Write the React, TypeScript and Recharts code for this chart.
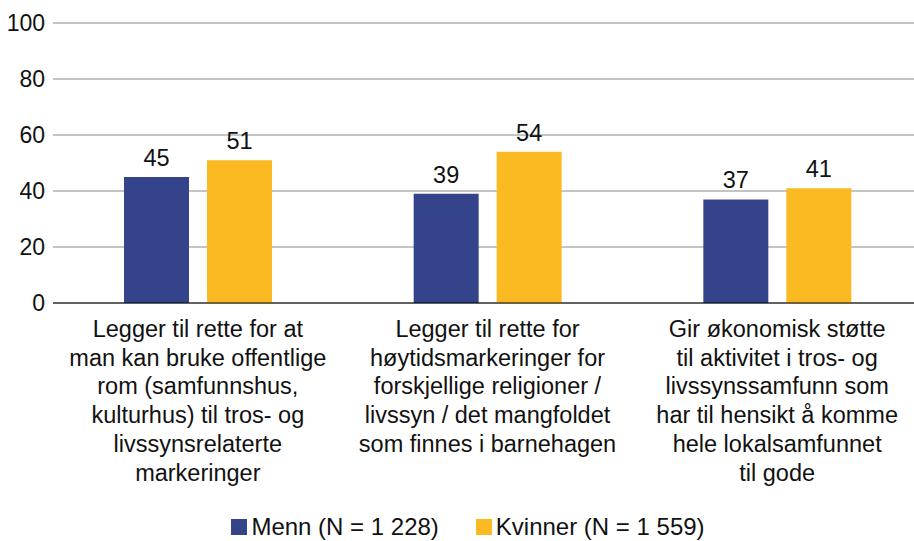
import React from 'react';
import { BarChart, Bar, XAxis, YAxis, CartesianGrid, Legend, LabelList } from 'recharts';

const categories = [
    'Legger til rette for at\nman kan bruke offentlige\nrom (samfunnshus,\nkulturhus) til tros- og\nlivssynsrelaterte\nmarkeringer',
    'Legger til rette for\nhøytidsmarkeringer for\nforskjellige religioner /\nlivssyn / det mangfoldet\nsom finnes i barnehagen',
    'Gir økonomisk støtte\ntil aktivitet i tros- og\nlivssynssamfunn som\nhar til hensikt å komme\nhele lokalsamfunnet\ntil gode',
];
const menn = [45, 39, 37];
const kvinner = [51, 54, 41];
const yTicks = [0, 20, 40, 60, 80, 100];

const seriesNames = { menn: 'Menn (N = 1 228)', kvinner: 'Kvinner (N = 1 559)' };
const NAVY = '#35448A';
const YELLOW = '#FBBA22';
const FONT = '"Liberation Sans", Arial, sans-serif';

const data = categories.map((c, i) => ({ cat: c, menn: menn[i], kvinner: kvinner[i] }));

const CategoryTick = (props: any) => {
    const { x, y, payload } = props;
    const lines = String(payload.value).split('\n');
    return (
        <text x={x} y={y} textAnchor="middle" fontSize={23.5} fill="#111" fontFamily={FONT}>
            {lines.map((l, i) => (
                <tspan key={i} x={x} dy={i === 0 ? 34 : 28.7}>{l}</tspan>
            ))}
        </text>
    );
};

const LegendContent = () => (
    <div style={{ display: 'flex', justifyContent: 'center', alignItems: 'center', boxSizing: 'border-box', height: 45, paddingTop: 16, paddingLeft: 14, fontFamily: FONT, fontSize: 24, color: '#111' }}>
        {[['menn', NAVY], ['kvinner', YELLOW]].map(([k, c], i) => (
            <div key={k} style={{ display: 'flex', alignItems: 'center', marginLeft: i ? 37 : 0 }}>
                <span style={{ display: 'inline-block', width: 16, height: 16, background: c, marginRight: 4 }} />
                <span>{(seriesNames as any)[k]}</span>
            </div>
        ))}
    </div>
);

export default function App() {
    return (
        <div style={{ position: 'absolute', left: 0, top: 0, width: 914, height: 541, overflow: 'hidden', background: '#fff' }}>
            <BarChart width={922} height={541} data={data} margin={{ top: 23, right: 0, left: 0, bottom: 0 }} barGap={18}>
                <CartesianGrid vertical={false} stroke="#8a8a8a" />
                <XAxis dataKey="cat" height={193} tickLine={false} tickSize={0} tickMargin={0} axisLine={{ stroke: '#000' }} tick={<CategoryTick />} interval={0} />
                <YAxis width={53} domain={[0, 100]} ticks={yTicks} axisLine={false} tickLine={false} tickSize={0} tickMargin={8}
                    tick={{ fill: '#111', fontSize: 23, fontFamily: FONT }} />
                <Legend verticalAlign="bottom" height={45} content={<LegendContent />} />
                <Bar dataKey="menn" fill={NAVY} barSize={65} isAnimationActive={false}>
                    <LabelList dataKey="menn" position="top" offset={11} fill="#111" fontSize={23.5} fontFamily={FONT} />
                </Bar>
                <Bar dataKey="kvinner" fill={YELLOW} barSize={65} isAnimationActive={false}>
                    <LabelList dataKey="kvinner" position="top" offset={11} fill="#111" fontSize={23.5} fontFamily={FONT} />
                </Bar>
            </BarChart>
        </div>
    );
}
